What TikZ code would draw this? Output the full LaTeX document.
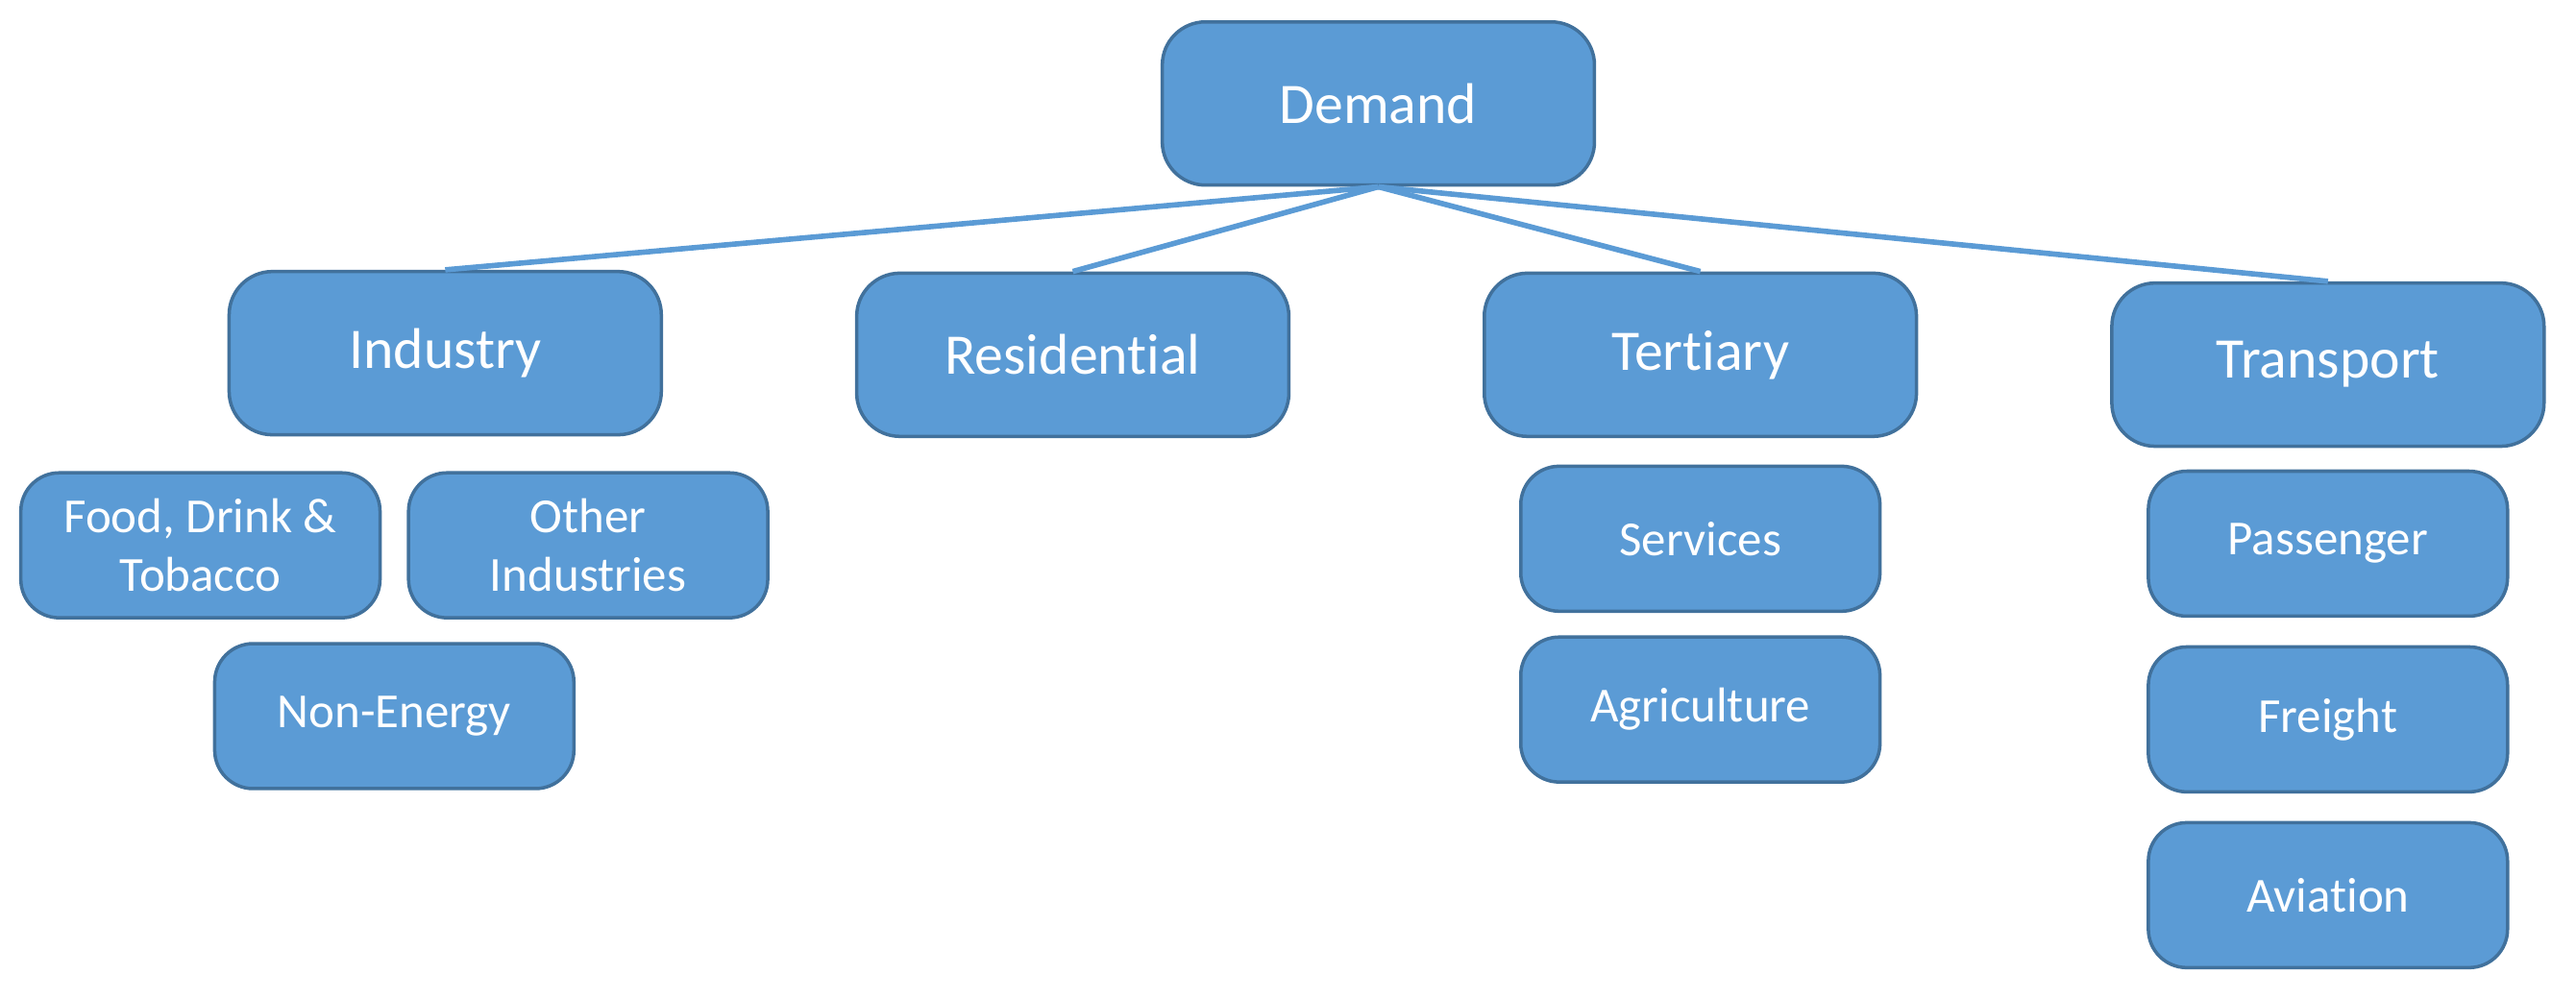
\documentclass[tikz,border=0pt]{standalone}
\usepackage{fontspec}
\setmainfont{Carlito}[Ligatures=NoCommon]
\usepackage{tikz, xcolor}
\usetikzlibrary{shapes,arrows}
\definecolor{boxfill}{HTML}{5B9BD5}
\definecolor{boxline}{HTML}{41719C}

\begin{document}
\begin{tikzpicture}[x=0.017098cm, y=-0.017098cm]
\tikzstyle{vertexm}=[rectangle, rounded corners=4.5mm, draw=boxline, fill=boxfill, line width=1pt, text=white, minimum width=4.5cm, minimum height=1.7cm, inner sep=0pt, font=\fontsize{17}{20}\selectfont, align=center]
\tikzstyle{vertexs}=[rectangle, rounded corners=4mm, draw=boxline, fill=boxfill, line width=1pt, text=white, minimum width=3.74cm, minimum height=1.51cm, inner sep=0pt, font=\fontsize{14.5}{17.4}\selectfont, align=center]
\tikzstyle{drawstyle}=[draw=boxfill, line width=1.6pt]

\useasboundingbox (0,0) rectangle (1568,608);

\node[vertexm] (G0x0) at (839,63) {Demand};
\node[vertexm] (G1x1) at (271,215) {Industry};
\node[vertexm] (G2x1) at (653,216) {Residential};
\node[vertexm] (G3x1) at (1035,216) {Tertiary};
\node[vertexm] (G4x1) at (1417,222) {Transport};
\draw[drawstyle] (G0x0.south) -- (G1x1.north);
\draw[drawstyle] (G0x0.south) -- (G2x1.north);
\draw[drawstyle] (G0x0.south) -- (G3x1.north);
\draw[drawstyle] (G0x0.south) -- (G4x1.north);
\node[vertexs] (G1x2) at (122,332) {Food, Drink \&\\Tobacco};
\node[vertexs] (G1x3) at (358,332) {Other\\Industries};
\node[vertexs] (G1x4) at (240,436) {Non-Energy};
\node[vertexs] (G3x2) at (1035,328) {Services};
\node[vertexs] (G3x3) at (1035,432) {Agriculture};
\node[vertexs] (G4x2) at (1417,331) {Passenger};
\node[vertexs] (G4x3) at (1417,438) {Freight};
\node[vertexs] (G4x4) at (1417,545) {Aviation};
\end{tikzpicture}
\end{document}
